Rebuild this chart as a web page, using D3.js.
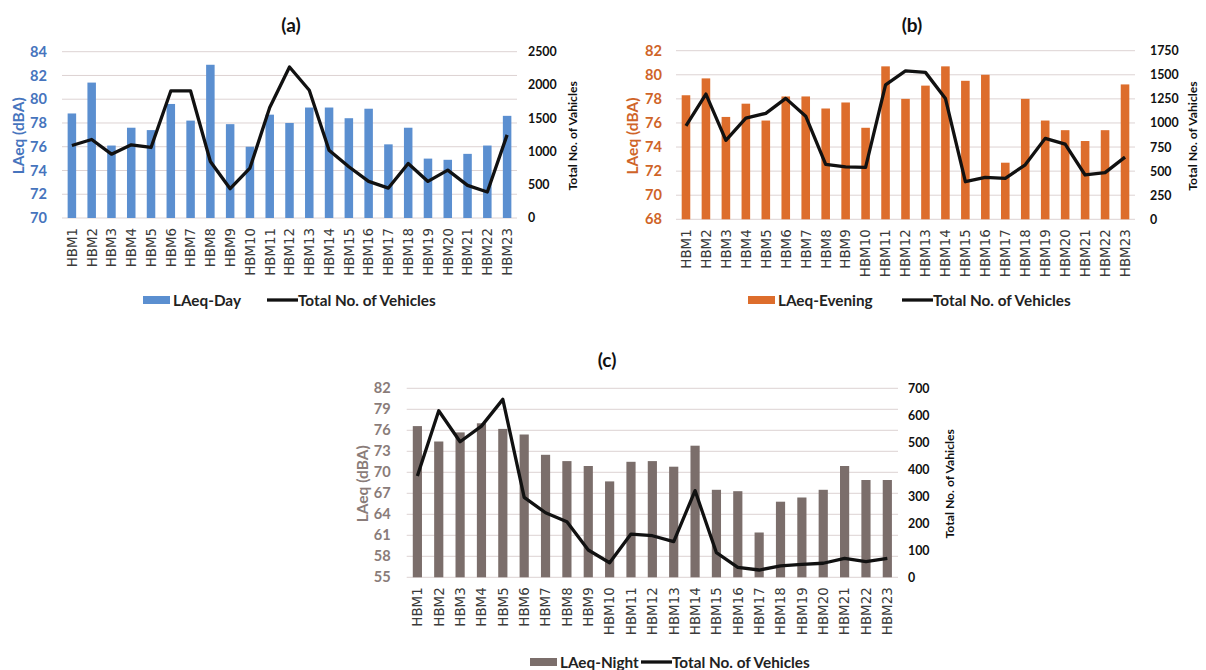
<!DOCTYPE html>
<html>
<head>
<meta charset="utf-8">
<script src="https://cdn.jsdelivr.net/npm/d3@7"></script>
<style>
  html, body { margin: 0; padding: 0; background: #fff; }
  svg { display: block; }
</style>
</head>
<body>
<svg id="chart" width="1206" height="670"></svg>
<script>
// Monitoring stations
const stations = ["HBM1","HBM2","HBM3","HBM4","HBM5","HBM6","HBM7","HBM8","HBM9","HBM10",
  "HBM11","HBM12","HBM13","HBM14","HBM15","HBM16","HBM17","HBM18","HBM19","HBM20",
  "HBM21","HBM22","HBM23"];

// Day period
const laeqDay = [78.8,81.4,76.1,77.6,77.4,79.6,78.2,82.9,77.9,76.0,78.7,78.0,79.3,79.3,78.4,79.2,76.2,77.6,75.0,74.9,75.4,76.1,78.6];
const vehiclesDay = [1090,1180,960,1100,1060,1910,1910,850,440,750,1660,2270,1920,1020,770,550,450,820,550,720,490,390,1250];
const dayLeftTicks = [70,72,74,76,78,80,82,84];
const dayRightTicks = [0,500,1000,1500,2000,2500];

// Evening period
const laeqEvening = [78.3,79.7,76.5,77.6,76.2,78.2,78.2,77.2,77.7,75.6,80.7,78.0,79.1,80.7,79.5,80.0,72.7,78.0,76.2,75.4,74.5,75.4,79.2];
const vehiclesEvening = [970,1300,820,1050,1100,1255,1070,570,545,540,1395,1540,1525,1255,390,435,425,565,840,780,460,485,645];
const eveningLeftTicks = [68,70,72,74,76,78,80,82];
const eveningRightTicks = [0,250,500,750,1000,1250,1500,1750];

// Night period
const laeqNight = [76.6,74.4,75.7,77.0,76.2,75.4,72.5,71.6,70.9,68.7,71.5,71.6,70.8,73.8,67.5,67.3,61.4,65.8,66.4,67.5,70.9,68.9,68.9];
const vehiclesNight = [375,617,502,560,659,296,239,206,101,54,160,154,132,321,91,37,27,42,48,52,70,58,70];
const nightLeftTicks = [55,58,61,64,67,70,73,76,79,82];
const nightRightTicks = [0,100,200,300,400,500,600,700];

const svg = d3.select("#chart");
const LATO = "Lato, 'Open Sans', sans-serif";

function drawPanel(p) {
  const g = svg.append("g");
  const x = d3.scaleBand().domain(stations).range([p.left, p.right])
    .paddingInner(0.57).paddingOuter(0.285);
  const yL = d3.scaleLinear().domain(d3.extent(p.leftTicks)).range([p.bottom, p.top]);
  const yR = d3.scaleLinear().domain(d3.extent(p.rightTicks)).range([p.bottom, p.top]);

  // horizontal gridlines on the left scale
  g.append("g").selectAll("line").data(p.leftTicks).join("line")
    .attr("x1", p.left).attr("x2", p.right)
    .attr("y1", d => yL(d)).attr("y2", d => yL(d))
    .attr("stroke", "#ddd3d3").attr("stroke-width", 1);

  // bars
  g.append("g").selectAll("rect").data(p.bars).join("rect")
    .attr("x", (d, i) => x(stations[i]))
    .attr("width", x.bandwidth())
    .attr("y", d => yL(d))
    .attr("height", d => p.bottom - yL(d))
    .attr("fill", p.barColor);

  // vehicle count line
  const line = d3.line()
    .x((d, i) => x(stations[i]) + x.bandwidth() / 2)
    .y(d => yR(d));
  g.append("path").datum(p.line)
    .attr("d", line)
    .attr("fill", "none").attr("stroke", "#111")
    .attr("stroke-width", 3.3).attr("stroke-linejoin", "round");

  // left axis
  const axL = d3.axisLeft(yL).tickValues(p.leftTicks).tickFormat(d3.format("d"))
    .tickSize(0).tickPadding(p.leftPad);
  const gL = g.append("g").attr("transform", `translate(${p.left},0)`).call(axL);
  gL.select(".domain").remove();
  gL.selectAll("text").attr("font-family", LATO).attr("font-weight", "bold")
    .attr("font-size", 14.6).attr("fill", p.tickColor);

  // right axis
  const axR = d3.axisRight(yR).tickValues(p.rightTicks).tickFormat(d3.format("d"))
    .tickSize(0).tickPadding(p.rightPad);
  const gR = g.append("g").attr("transform", `translate(${p.right},0)`).call(axR);
  gR.select(".domain").remove();
  gR.selectAll("text").attr("font-family", LATO).attr("font-weight", "bold")
    .attr("font-size", 12.4).attr("fill", "#111");

  // category axis, labels rotated
  const axB = d3.axisBottom(x).tickSize(0).tickPadding(0);
  const gB = g.append("g").attr("transform", `translate(0,${p.bottom})`).call(axB);
  gB.select(".domain").remove();
  gB.selectAll("text")
    .attr("font-family", "'DejaVu Sans', sans-serif").attr("font-size", 13.4)
    .attr("fill", "#3a3a3a")
    .attr("transform", "rotate(-90)")
    .attr("text-anchor", "end")
    .attr("x", -10).attr("y", 0).attr("dy", "0.36em");

  // axis titles
  g.append("text")
    .attr("transform", `translate(${p.leftTitleX},${(p.top + p.bottom) / 2 + 1}) rotate(-90)`)
    .attr("text-anchor", "middle").attr("dy", "0.36em")
    .attr("font-family", LATO).attr("font-weight", "bold").attr("font-size", 15.5)
    .attr("fill", p.tickColor).text("LAeq (dBA)");
  g.append("text")
    .attr("transform", `translate(${p.rightTitleX},${(p.top + p.bottom) / 2 + 1}) rotate(-90)`)
    .attr("text-anchor", "middle").attr("dy", "0.36em")
    .attr("font-family", LATO).attr("font-weight", "bold").attr("font-size", 12.2)
    .attr("fill", "#111").text("Total No. of Vahicles");

  // panel title
  g.append("text").attr("x", p.titleX).attr("y", p.titleY).attr("dy", "0.36em")
    .attr("text-anchor", "middle")
    .attr("font-family", LATO).attr("font-weight", "bold").attr("font-size", 19)
    .attr("fill", "#111").text(p.title);

  // legend
  const lg = g.append("g").attr("transform", `translate(${p.legendX},${p.legendY})`);
  lg.append("rect").attr("x", 0).attr("y", -4).attr("width", 27).attr("height", 8)
    .attr("fill", p.barColor);
  lg.append("text").attr("x", 30).attr("y", 0).attr("dy", "0.36em")
    .attr("font-family", LATO).attr("font-weight", "bold").attr("font-size", 15.3)
    .attr("fill", "#222").text(p.barName);
  lg.append("line").attr("x1", p.lineSwatchX).attr("x2", p.lineSwatchX + 31)
    .attr("y1", 0).attr("y2", 0).attr("stroke", "#111").attr("stroke-width", 3.3);
  lg.append("text").attr("x", p.lineSwatchX + 31).attr("y", 0).attr("dy", "0.36em")
    .attr("font-family", LATO).attr("font-weight", "bold").attr("font-size", 15.3)
    .attr("fill", "#222").text("Total No. of Vehicles");
}

drawPanel({
  title: "(a)", titleX: 291, titleY: 25,
  left: 62, right: 517, top: 51.7, bottom: 218,
  bars: laeqDay, line: vehiclesDay,
  leftTicks: dayLeftTicks, rightTicks: dayRightTicks,
  barColor: "#5b8fd0", tickColor: "#4674bd", barName: "LAeq-Day",
  leftPad: 15, rightPad: 11, leftTitleX: 18, rightTitleX: 573,
  legendX: 143, legendY: 300, lineSwatchX: 124
});

drawPanel({
  title: "(b)", titleX: 912, titleY: 25,
  left: 676, right: 1135, top: 50.7, bottom: 219.3,
  bars: laeqEvening, line: vehiclesEvening,
  leftTicks: eveningLeftTicks, rightTicks: eveningRightTicks,
  barColor: "#dd6d2c", tickColor: "#cf6428", barName: "LAeq-Evening",
  leftPad: 14, rightPad: 15, leftTitleX: 632, rightTitleX: 1193,
  legendX: 748, legendY: 300, lineSwatchX: 154
});

drawPanel({
  title: "(c)", titleX: 607, titleY: 360,
  left: 406.7, right: 898, top: 388.3, bottom: 577.3,
  bars: laeqNight, line: vehiclesNight,
  leftTicks: nightLeftTicks, rightTicks: nightRightTicks,
  barColor: "#7b6e6b", tickColor: "#8a7c79", barName: "LAeq-Night",
  leftPad: 16, rightPad: 10, leftTitleX: 362, rightTitleX: 950,
  legendX: 530, legendY: 662, lineSwatchX: 111
});
</script>
</body>
</html>
